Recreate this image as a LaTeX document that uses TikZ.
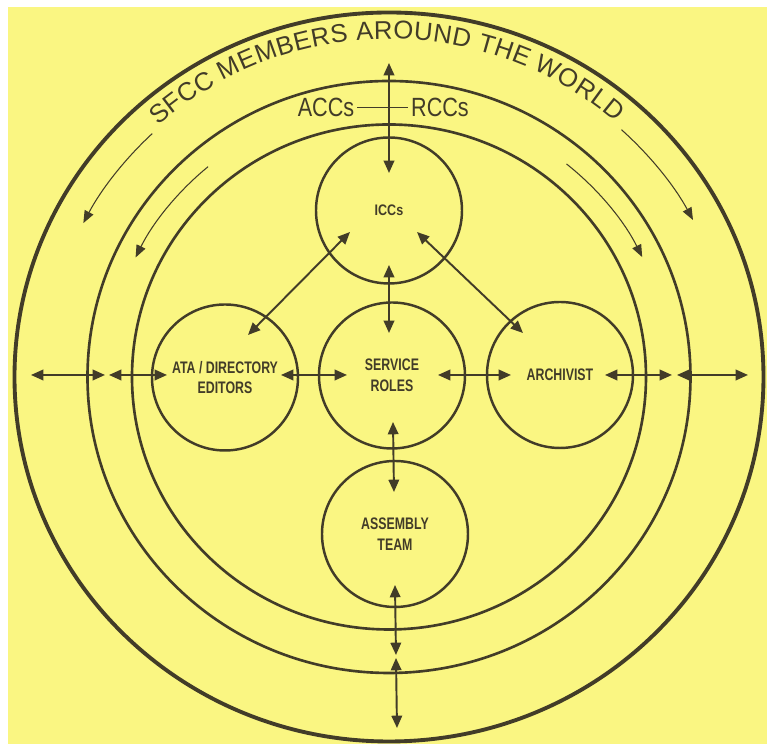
\documentclass[tikz,border=0pt]{standalone}
\usepackage{fontspec}
\usetikzlibrary{arrows.meta, positioning, calc, decorations.text}
\newfontfamily\titlefont{Liberation Sans}
\newfontfamily\capfont[FakeStretch=0.82]{Liberation Sans}
\newfontfamily\rolefont[FakeStretch=0.74]{Liberation Sans}
\definecolor{paper}{RGB}{250,246,130}
\definecolor{ink}{RGB}{66,60,40}

\begin{document}
\begin{tikzpicture}[
        ring/.style={draw=ink, line width=1.5pt},
        role/.style={circle, draw=ink, line width=1.4pt, minimum size=2.92cm, inner sep=0pt, align=center, text=ink, font=\rolefont\bfseries\fontsize{9.5}{11.7}\selectfont},
        link/.style={{Triangle[length=7pt,width=6pt]}-{Triangle[length=7pt,width=6pt]}, line width=1.1pt, draw=ink},
        flow/.style={-{Triangle[length=7pt,width=5.5pt]}, line width=0.6pt, draw=ink},
        tag/.style={text=ink, inner sep=1.5pt, font=\capfont\fontsize{15}{18}\selectfont}
    ]
        \fill[white] (-7.78,-7.34) rectangle (7.62,7.54);
        \fill[paper] (-7.62,-7.34) rectangle (7.56,7.40);
        \useasboundingbox (-7.78,-7.34) rectangle (7.62,7.54);
        \draw[ring] (0,0) ellipse [x radius=5.14, y radius=5.05];
        \draw[ring] (0,0) ellipse [x radius=6.03, y radius=5.92];
        \draw[ring, line width=2.2pt] (0,0) ellipse [x radius=7.49, y radius=7.29];
        \path[decorate, decoration={text along path, text align=fit to path, text={|\titlefont\fontsize{14.6}{18}\selectfont\color{ink}|SFCC MEMBERS AROUND THE WORLD}}] (132:6.9 and 6.76) arc[start angle=132, end angle=49, x radius=6.9, y radius=6.76];
        \draw[flow] (133.5:6.88 and 6.71) arc[start angle=133.5, end angle=152.7, x radius=6.88, y radius=6.71];
        \draw[flow] (47.5:6.88 and 6.71) arc[start angle=47.5, end angle=27.9, x radius=6.88, y radius=6.71];
        \draw[flow] (130:5.63 and 5.49) arc[start angle=130, end angle=154.2, x radius=5.63, y radius=5.49];
        \draw[flow] (50.9:5.63 and 5.49) arc[start angle=50.9, end angle=25.9, x radius=5.63, y radius=5.49];
        \node[tag] (acc) at (-1.26, 5.39) {ACCs};
        \node[tag] (rcc) at (1.02, 5.39) {RCCs};
        \draw[draw=ink, line width=1.1pt] (acc.east) -- (rcc.west);
        \node[role, font=\capfont\bfseries\fontsize{8.7}{10}\selectfont] (icc) at (0, 3.33) {ICCs};
        \node[role] (serv) at (0.06, 0.03) {SERVICE\\ROLES};
        \node[role] (ata) at (-3.28, -0.01) {ATA / DIRECTORY\\EDITORS};
        \node[role] (arch) at (3.42, 0.04) {ARCHIVIST};
        \node[role] (team) at (0.12, -3.14) {ASSEMBLY\\TEAM};
        \coordinate (top) at (0, 6.28);
        \coordinate (wl1) at (-7.16, 0.04);
        \coordinate (wl2) at (-5.68, 0.04);
        \coordinate (wl3) at (-5.6, 0.04);
        \coordinate (wr1) at (5.66, 0.04);
        \coordinate (wr2) at (5.76, 0.04);
        \coordinate (wr3) at (7.18, 0.04);
        \coordinate (wb1) at (0.14, -5.56);
        \coordinate (wb2) at (0.14, -5.62);
        \coordinate (wb3) at (0.16, -7.02);
        \draw[link] (top) -- ([yshift=0.75cm]icc.center);
        \draw[link] ([shift={(-0.78,-0.43)}]icc.center) -- ([shift={(0.46,0.85)}]ata.center);
        \draw[link] ([shift={(0.56,-0.43)}]icc.center) -- ([shift={(-0.74,0.84)}]arch.center);
        \draw[link] ([yshift=-1.09cm]icc.center) -- ([shift={(-0.06,0.85)}]serv.center);
        \draw[link] ([shift={(0.02,-0.93)}]serv.center) -- ([shift={(-0.02,0.84)}]team.center);
        \draw[link] ([yshift=-1.02cm]team.center) -- (wb1);
        \draw[link] (wb2) -- (wb3);
        \draw[link] (wl1) -- (wl2);
        \draw[link] (wl3) -- ([shift={(-1.16,0.05)}]ata.center);
        \draw[link] ([shift={(1.12,0.05)}]ata.center) -- ([shift={(-0.9,0.01)}]serv.center);
        \draw[link] ([shift={(0.92,0.01)}]serv.center) -- ([shift={(-0.98,0)}]arch.center);
        \draw[link] ([shift={(0.9,0)}]arch.center) -- (wr1);
        \draw[link] (wr2) -- (wr3);
    \end{tikzpicture}
\end{document}
